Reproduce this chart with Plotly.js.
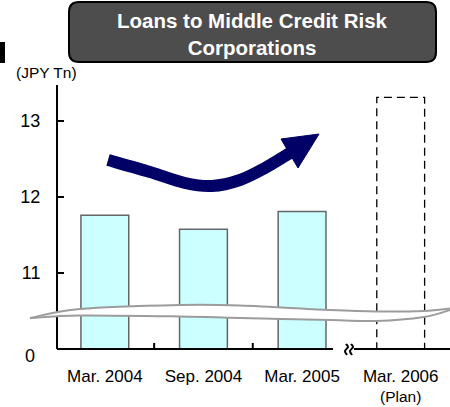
<!DOCTYPE html>
<html>
<head>
<meta charset="utf-8">
<script src="https://cdn.plot.ly/plotly-3.0.1.min.js"></script>
<style>html,body{margin:0;padding:0;background:#fff;}#chart{width:450px;height:407px;}</style>
</head>
<body>
<div id="chart"></div>
<script>
// ---- data ----
const categories = ["Mar. 2004", "Sep. 2004", "Mar. 2005", "Mar. 2006"];
const planNote = "(Plan)";
const actualValues = [11.76, 11.575, 11.81];
const planValue = [13.31];
const yTickVals = [11, 12, 13];
const yTickText = ["11", "12", "13"];
const unitLabel = "(JPY Tn)";
const titleText = "Loans to Middle Credit Risk<br>Corporations";
const zeroLabel = "0";

// ---- geometry helpers (pixel -> paper) ----
const L = 58, R = 0, T = 85, B = 58, W = 450, H = 407;
const PW = W - L - R, PH = H - T - B;
function px(x) { return (x - L) / PW; }
function py(y) { return (H - B - y) / PH; }
function pt(p) { return px(p[0]).toFixed(5) + ',' + py(p[1]).toFixed(5); }
function smooth(pts, start) {
  let d = (start || 'M') + pt(pts[0]);
  for (let i = 0; i < pts.length - 1; i++) {
    const p0 = pts[i - 1] || pts[i], p1 = pts[i], p2 = pts[i + 1], p3 = pts[i + 2] || p2;
    const c1 = [p1[0] + (p2[0] - p0[0]) / 6, p1[1] + (p2[1] - p0[1]) / 6];
    const c2 = [p2[0] - (p3[0] - p1[0]) / 6, p2[1] - (p3[1] - p1[1]) / 6];
    d += ' C' + pt(c1) + ' ' + pt(c2) + ' ' + pt(p2);
  }
  return d;
}
function roundRect(x0, y0, x1, y1, r) {
  return 'M' + pt([x0 + r, y0]) + ' L' + pt([x1 - r, y0]) +
    ' Q' + pt([x1, y0]) + ' ' + pt([x1, y0 + r]) +
    ' L' + pt([x1, y1 - r]) + ' Q' + pt([x1, y1]) + ' ' + pt([x1 - r, y1]) +
    ' L' + pt([x0 + r, y1]) + ' Q' + pt([x0, y1]) + ' ' + pt([x0, y1 - r]) +
    ' L' + pt([x0, y0 + r]) + ' Q' + pt([x0, y0]) + ' ' + pt([x0 + r, y0]) + ' Z';
}

const barWidth = 0.485;
const FONT = "Liberation Sans, Arial, sans-serif";

const traces = [
  {
    type: 'bar',
    x: categories.slice(0, 3),
    y: actualValues,
    width: barWidth,
    marker: { color: '#CCFFFF', line: { color: '#666666', width: 1.5 } },
    hoverinfo: 'skip'
  },
  {
    type: 'bar',
    x: categories.slice(3),
    y: planValue,
    width: barWidth,
    marker: { color: 'rgba(255,255,255,0)', line: { width: 0 } },
    hoverinfo: 'skip'
  }
];

// wave (axis break band)
const waveTop = [[30, 318], [80, 309], [180, 305], [240, 305.5], [330, 310], [376, 311.5], [424, 311], [450, 308.5]];
const waveBot = [[30, 318], [80, 315.5], [180, 316.5], [240, 318], [330, 320], [376, 321], [424, 317], [450, 310]];
const waveBotRev = waveBot.slice().reverse();

// arrow
const shaft = [[108, 160], [150, 172], [185, 183], [212, 186], [240, 180], [265, 168], [290, 153]];
const head = [[319, 134], [281, 139], [298, 168]];

const planIdx = 3;
const shapes = [
  // dashed plan bar
  {
    type: 'rect', xref: 'x', yref: 'y', layer: 'above',
    x0: planIdx - barWidth / 2, x1: planIdx + barWidth / 2, y0: 0, y1: planValue[0],
    line: { color: '#000', width: 1.3, dash: '8px,5px' }, fillcolor: 'rgba(0,0,0,0)'
  },
  // x axis line segments
  { type: 'line', xref: 'paper', yref: 'paper', x0: px(57), x1: px(333), y0: 0, y1: 0, line: { color: '#000', width: 2 } },
  { type: 'line', xref: 'paper', yref: 'paper', x0: px(354), x1: px(450), y0: 0, y1: 0, line: { color: '#000', width: 2 } },
  // x ticks at category boundaries
  { type: 'line', xref: 'x', yref: 'paper', x0: 0.5, x1: 0.5, y0: 0, y1: 6 / PH, line: { color: '#000', width: 2 } },
  { type: 'line', xref: 'x', yref: 'paper', x0: 1.5, x1: 1.5, y0: 0, y1: 6 / PH, line: { color: '#000', width: 2 } },
  // break squiggles on x axis
  { type: 'path', xref: 'paper', yref: 'paper', path: smooth([[346, 344], [348, 347], [345, 351], [347, 355]]), line: { color: '#000', width: 2 } },
  { type: 'path', xref: 'paper', yref: 'paper', path: smooth([[351, 344], [353, 347], [350, 351], [352, 355]]), line: { color: '#000', width: 2 } },
  // wave band
  { type: 'path', xref: 'paper', yref: 'paper', layer: 'above', path: smooth(waveTop) + ' L' + pt(waveBotRev[0]) + smooth(waveBotRev, ' L').replace(/^ L[^ ]+/, '') + ' Z', fillcolor: '#ffffff', line: { width: 0 } },
  { type: 'path', xref: 'paper', yref: 'paper', layer: 'above', path: smooth(waveTop), line: { color: '#9c9c9c', width: 2 } },
  { type: 'path', xref: 'paper', yref: 'paper', layer: 'above', path: smooth(waveBot), line: { color: '#9c9c9c', width: 2 } },
  // arrow
  { type: 'path', xref: 'paper', yref: 'paper', layer: 'above', path: smooth(shaft), line: { color: '#000066', width: 12 } },
  { type: 'path', xref: 'paper', yref: 'paper', layer: 'above', path: 'M' + pt(head[0]) + ' L' + pt(head[1]) + ' L' + pt(head[2]) + ' Z', fillcolor: '#000066', line: { color: '#000066', width: 1 } },
  // title box
  { type: 'path', xref: 'paper', yref: 'paper', layer: 'above', path: roundRect(69, 2, 436, 62, 10), fillcolor: '#4d4d4d', line: { color: '#000', width: 2 } },
  // black mark at top left
  { type: 'rect', xref: 'paper', yref: 'paper', x0: px(0), x1: px(5), y0: py(63), y1: py(42), fillcolor: '#000', line: { width: 0 } }
];

const annotations = [
  { xref: 'paper', yref: 'paper', x: px(252.5), y: py(34), text: '<b>' + titleText + '</b>', showarrow: false,
    font: { family: FONT, size: 20.5, color: '#fff' }, xanchor: 'center', yanchor: 'middle' },
  { xref: 'paper', yref: 'paper', x: px(46), y: py(72.5), text: unitLabel, showarrow: false,
    font: { family: FONT, size: 15.5, color: '#000' }, xanchor: 'center', yanchor: 'middle' },
  { xref: 'paper', yref: 'paper', x: px(30), y: py(356), text: zeroLabel, showarrow: false,
    font: { family: FONT, size: 18, color: '#000' }, xanchor: 'center', yanchor: 'middle' },
  { xref: 'x', yref: 'paper', x: categories[planIdx], y: py(396.5), text: planNote, showarrow: false,
    font: { family: FONT, size: 15.5, color: '#000' }, xanchor: 'center', yanchor: 'middle' }
];

const layout = {
  width: W, height: H,
  margin: { l: L, r: R, t: T, b: B, pad: 0 },
  paper_bgcolor: '#fff', plot_bgcolor: '#fff',
  showlegend: false,
  barmode: 'overlay',
  font: { family: FONT, color: '#000' },
  xaxis: {
    type: 'category', range: [-0.475, 3.5],
    showline: false, showgrid: false, zeroline: false, ticks: '',
    tickfont: { family: FONT, size: 17, color: '#000' },
    ticklabelstandoff: 15, fixedrange: true
  },
  yaxis: {
    range: [10, 13.474], tickvals: yTickVals, ticktext: yTickText,
    ticks: 'inside', ticklen: 6, tickwidth: 2, tickcolor: '#000',
    showline: true, linewidth: 2, linecolor: '#000',
    showgrid: false, zeroline: false,
    tickfont: { family: FONT, size: 18, color: '#000' },
    ticklabelstandoff: 12, fixedrange: true
  },
  shapes: shapes,
  annotations: annotations
};

Plotly.newPlot('chart', traces, layout, { displayModeBar: false, staticPlot: true });
</script>
</body>
</html>
